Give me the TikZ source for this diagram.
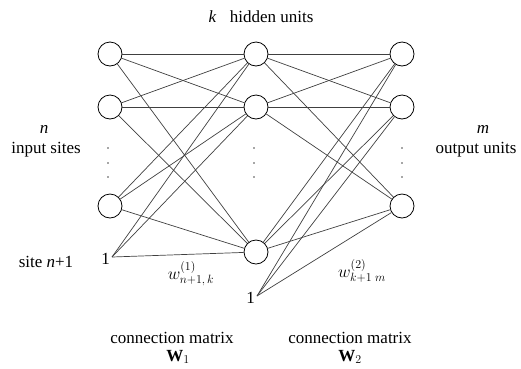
\documentclass[tikz,border=0pt]{standalone}
\usepackage{fontspec}
\setmainfont{Liberation Serif}
\begin{document}
\begin{tikzpicture}[x=1pt,y=-1pt,
  unit/.style={circle,draw,line width=0.8pt,minimum size=24pt,inner sep=0pt,fill=white},
  conn/.style={line width=0.7pt,black!75},
  lbl/.style={font=\fontsize{17}{19}\selectfont,inner sep=0pt},
  wlbl/.style={font=\fontsize{17}{19}\selectfont,inner sep=0pt},
  dotm/.style={circle,fill=black!70,inner sep=0pt,minimum size=1.6pt}]
\useasboundingbox (0,0) rectangle (521,368);
% nodes
\node[unit] (i1) at (110,54) {};
\node[unit] (i2) at (110,107) {};
\node[unit] (i3) at (110,206) {};
\node[unit] (h1) at (256,54) {};
\node[unit] (h2) at (256,107) {};
\node[unit] (h3) at (256,252) {};
\node[unit] (o1) at (402,54) {};
\node[unit] (o2) at (402,107) {};
\node[unit] (o3) at (402,206) {};
\coordinate (b1) at (112,257);
\coordinate (b2) at (257,296);
\node[lbl,anchor=east] (b1l) at (110,259) {1};
\node[lbl,anchor=east] (b2l) at (255,298) {1};
% connections
\foreach \s in {i1,i2,i3}{\foreach \t in {h1,h2,h3}{\draw[conn] (\s) -- (\t);}}
\foreach \t in {h1,h2,h3}{\draw[conn] (b1) -- (\t);}
\foreach \s in {h1,h2,h3}{\foreach \t in {o1,o2,o3}{\draw[conn] (\s) -- (\t);}}
\foreach \t in {o1,o2,o3}{\draw[conn] (b2) -- (\t);}
% dots
\foreach \x in {108,254,402}{\foreach \y in {148,163,177}{\fill[black!70] (\x,\y) circle (0.8pt);}}
% labels
\node[lbl] (top) at (261,17) {\textit{k}\hspace{0.8em}hidden units};
\node[lbl] (nl) at (44,129) {\textit{n}};
\node[lbl] (inl) at (46,150) {input sites};
\node[lbl] (ml) at (483,129) {\textit{m}};
\node[lbl] (outl) at (476,150) {output units};
\node[lbl] (site) at (46,262) {site \textit{n}+1};
\node[wlbl] (w1) at (191,274) {$w^{(1)}_{n+1,\,k}$};
\node[wlbl] (w2) at (362,271) {$w^{(2)}_{k+1\;m}$};
\node[lbl] (cm1) at (172,338) {connection matrix};
\node[lbl] (W1) at (178,357) {$\mathbf{W}_1$};
\node[lbl] (cm2) at (350,338) {connection matrix};
\node[lbl] (W2) at (350,357) {$\mathbf{W}_2$};
\end{tikzpicture}
\end{document}
